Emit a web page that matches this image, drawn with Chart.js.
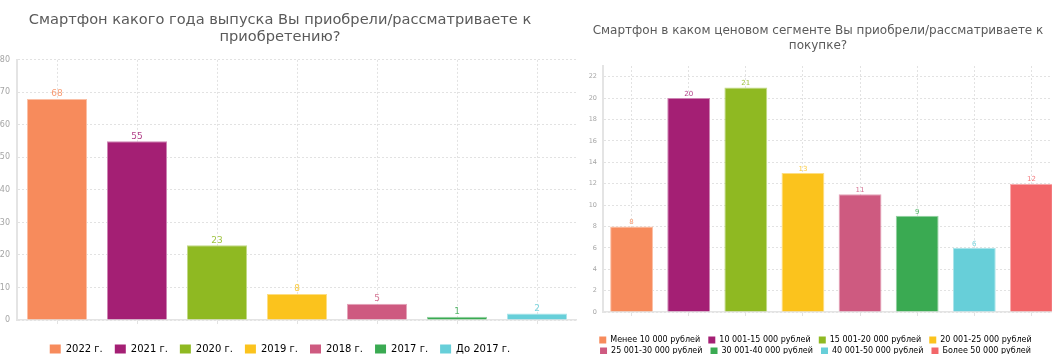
<!DOCTYPE html>
<html>
<head>
<meta charset="utf-8">
<script src="https://cdn.jsdelivr.net/npm/chart.js@4"></script>
<style>
  html, body { margin: 0; padding: 0; background: #fff; }
  body { width: 1052px; height: 354px; overflow: hidden; position: relative; }
  .box { position: absolute; top: 0; }
  .box canvas { display: block; }
  #yearBox { left: -17px; }
  #priceBox { left: 576px; filter: blur(0.5px); }
</style>
</head>
<body>
<div class="box" id="yearBox"><canvas id="yearChart" width="594" height="364"></canvas></div>
<div class="box" id="priceBox"><canvas id="priceChart" width="484" height="365"></canvas></div>
<script>
// Release year of the phone
const yearLabels = ['2022 г.', '2021 г.', '2020 г.', '2019 г.', '2018 г.', '2017 г.', 'До 2017 г.'];
const yearValues = [68, 55, 23, 8, 5, 1, 2];

// Price segment of the phone
const priceLabels = [
  'Менее 10 000 рублей', '10 001-15 000 рублей', '15 001-20 000 рублей', '20 001-25 000 рублей',
  '25 001-30 000 рублей', '30 001-40 000 рублей', '40 001-50 000 рублей', 'Более 50 000 рублей'
];
const priceValues = [8, 20, 21, 13, 11, 9, 6, 12];

const palette = ['#f78b5c', '#a41f74', '#8fb922', '#fbc31d', '#ce5a80', '#3aaa52', '#67cfd9', '#f26669'];

Chart.defaults.font.family = "'DejaVu Sans', sans-serif";

// mix a hex colour with white for the bar outline
function lighten(hex, amount) {
  const n = parseInt(hex.slice(1), 16);
  const r = (n >> 16) & 255, g = (n >> 8) & 255, b = n & 255;
  const mix = c => Math.round(c + (255 - c) * amount);
  return `rgb(${mix(r)}, ${mix(g)}, ${mix(b)})`;
}

// value above every bar, in the bar colour
const valueLabels = {
  id: 'valueLabels',
  afterDatasetsDraw(chart, args, opts) {
    const ctx = chart.ctx;
    const ds = chart.data.datasets[0];
    const meta = chart.getDatasetMeta(0);
    ctx.save();
    ctx.font = `${opts.size}px 'DejaVu Sans', sans-serif`;
    ctx.textAlign = 'center';
    ctx.textBaseline = 'middle';
    meta.data.forEach((bar, i) => {
      ctx.fillStyle = lighten(ds.backgroundColor[i], 0.15);
      ctx.fillText(ds.data[i], bar.x, bar.y - opts.offset);
    });
    ctx.restore();
  }
};

function makeChart(id, labels, values, s) {
  const colors = palette.slice(0, labels.length);
  const ctx = document.getElementById(id).getContext('2d');
  return new Chart(ctx, {
    type: 'bar',
    data: {
      labels: labels,
      datasets: [{
        data: values,
        backgroundColor: colors,
        borderColor: colors.map(c => lighten(c, 0.45)),
        borderWidth: 1,
        barPercentage: 0.75,
        categoryPercentage: 1
      }]
    },
    options: {
      responsive: false,
      animation: false,
      layout: { padding: 0 },
      scales: {
        x: {
          ticks: { display: false },
          grid: { offset: false, color: '#e2e2e2', tickLength: 4, tickColor: '#e2e2e2' },
          border: { display: true, color: '#e4e4e4', width: 1.5, dash: [2, 2] },
          afterFit(scale) { scale.height = s.xHeight; }
        },
        y: {
          min: 0,
          max: s.max,
          ticks: { stepSize: s.step, includeBounds: false, color: '#a5a5a5', font: { size: s.tickSize }, padding: s.tickPad },
          grid: { color: '#e2e2e2', drawTicks: false },
          border: { display: true, color: '#e4e4e4', width: 2, dash: [2, 2] },
          afterFit(scale) { scale.width = s.yWidth; }
        }
      },
      plugins: {
        title: {
          display: true,
          text: s.title,
          color: '#5a5a5a',
          font: { size: s.titleSize, weight: 'normal', lineHeight: s.titleLine },
          padding: s.titlePad
        },
        legend: {
          position: 'bottom',
          labels: {
            boxWidth: s.boxW,
            boxHeight: s.boxH,
            padding: s.legendPad,
            color: '#777',
            font: { size: s.legendSize },
            generateLabels: chart => chart.data.labels.map((text, i) => ({
              text: text + s.gap,
              fillStyle: colors[i],
              strokeStyle: colors[i],
              lineWidth: 0,
              hidden: false,
              index: i
            }))
          }
        },
        tooltip: { enabled: false },
        valueLabels: { size: s.valueSize, offset: s.valueOffset }
      }
    },
    plugins: [valueLabels]
  });
}

makeChart('yearChart', yearLabels, yearValues, {
  title: ['Смартфон какого года выпуска Вы приобрели/рассматриваете к', 'приобретению?'],
  titleSize: 14.6, titleLine: 1.16, titlePad: { top: 12, bottom: 14 },
  max: 80, step: 10, tickSize: 8, tickPad: 7, yWidth: 34, xHeight: 12,
  boxW: 11, boxH: 9, legendPad: 12, legendSize: 10, gap: '',
  valueSize: 9, valueOffset: 5
});

makeChart('priceChart', priceLabels, priceValues, {
  title: ['Смартфон в каком ценовом сегменте Вы приобрели/рассматриваете к', 'покупке?'],
  titleSize: 12, titleLine: 1.25, titlePad: { top: 23, bottom: 13 },
  max: 23, step: 2, tickSize: 6.5, tickPad: 6, yWidth: 27, xHeight: 21,
  boxW: 7, boxH: 7, legendPad: 3, legendSize: 8, gap: '  ',
  valueSize: 7, valueOffset: 4
});
</script>
</body>
</html>
